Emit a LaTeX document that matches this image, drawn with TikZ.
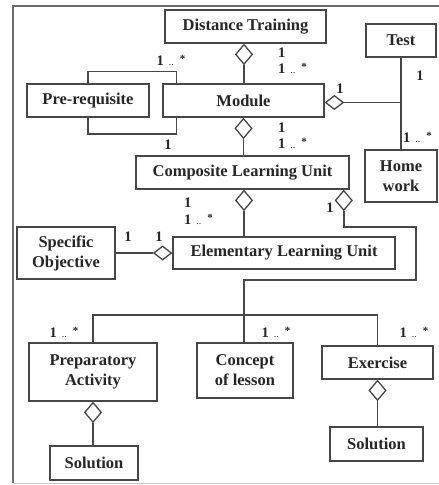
\documentclass[tikz,border=0pt]{standalone}
\usepackage{fontspec}
\setmainfont{Liberation Serif}
\usetikzlibrary{shapes.geometric}
\definecolor{ln}{HTML}{474747}
\definecolor{tx}{HTML}{262626}
\tikzset{
  box/.style={draw=ln, line width=1.5pt, fill=white, inner sep=0pt, align=center,
    text=tx, font=\fontsize{16.5}{20}\selectfont\bfseries},
  agg/.style={diamond, draw=ln, line width=1.3pt, fill=white, inner sep=0pt,
    minimum width=17pt, minimum height=20pt},
  aggh/.style={diamond, draw=ln, line width=1.3pt, fill=white, inner sep=0pt,
    minimum width=18pt, minimum height=14pt},
  conn/.style={draw=ln, line width=1.5pt},
  mult/.style={text=tx, inner sep=0pt, font=\fontsize{14.5}{16}\selectfont\bfseries},
}
\newcommand{\many}{1\hspace{5pt}{\normalfont\fontsize{10}{12}\selectfont..}\hspace{6pt}\raisebox{3pt}{\fontsize{11}{12}\selectfont *}}
\begin{document}
\begin{tikzpicture}[x=1pt,y=-1pt]
\useasboundingbox (0,0) rectangle (439,485);
% frame
\draw[draw=ln!80, line width=1.6pt] (439,6) -- (13,6) -- (13,483);
\draw[draw=ln!30, line width=1pt] (13,483) -- (439,483);

% boxes
\node[box, minimum width=161pt, minimum height=33pt] (dt) at (245.5,26.5) {Distance Training};
\node[box, minimum width=70pt, minimum height=33pt] (test) at (401,40.5) {Test};
\node[box, minimum width=122pt, minimum height=33pt] (pre) at (88,100.5) {Pre-requisite};
\node[box, minimum width=161pt, minimum height=33pt] (mod) at (243.5,100.5) {Module};
\node[box, minimum width=213pt, minimum height=33pt] (clu) at (242.5,172.5) {Composite Learning Unit};
\node[box, minimum width=72pt, minimum height=52pt] (hw) at (401,176) {Home\\work};
\node[box, minimum width=222pt, minimum height=32pt] (elu) at (284,253) {Elementary Learning Unit};
\node[box, minimum width=98pt, minimum height=52pt] (so) at (66,253) {Specific\\Objective};
\node[box, minimum width=128pt, minimum height=58pt] (pa) at (93,372) {Preparatory\\Activity};
\node[box, minimum width=96pt, minimum height=55pt] (col) at (245,370.5) {Concept\\of lesson};
\node[box, minimum width=111pt, minimum height=33pt] (ex) at (377.5,362.5) {Exercise};
\node[box, minimum width=93pt, minimum height=34pt] (sol2) at (376.5,444) {Solution};
\node[box, minimum width=88pt, minimum height=34pt] (sol1) at (94,463) {Solution};

% aggregation diamonds
\node[agg, anchor=north] (d1) at ([xshift=-1.5pt]dt.south) {};
\node[aggh, anchor=west] (d2) at ([yshift=-2pt]mod.east) {};
\node[agg, anchor=north] (d3) at (mod.south) {};
\node[agg, anchor=north] (d4) at ([xshift=1.5pt]clu.south) {};
\node[agg, anchor=north] (d5) at ([xshift=-6pt]clu.south east) {};
\node[aggh, anchor=east] (d6) at (elu.west) {};
\node[agg, anchor=north] (d7) at (pa.south) {};
\node[agg, anchor=north] (d8) at (ex.south) {};
\coordinate (j) at (244,315);

% connectors
\draw[conn] (d1.south) -- (d1.south |- mod.north);
\draw[conn] (pre.north) -- ++(0,-12) -| ([xshift=14pt]mod.north west);
\draw[conn] (pre.south) -- ++(0,16) -| ([xshift=14pt]mod.south west);
\draw[conn] (test.south) -- (hw.north);
\draw[conn] (d2.east) -- (d2.east -| test.south);
\draw[conn] (d3.south) -- (d3.south |- clu.north);
\draw[conn] (d4.south) -- (d4.south |- elu.north);
\draw[conn] (d5.south) -- ++(0,16) -- ++(72,0) -- ++(0,53) -| (j);
\draw[conn] (pa.north) |- (j) -| (ex.north);
\draw[conn] (j) -- (j |- col.north);
\draw[conn] (so.east) -- (d6.west);
\draw[conn] (d7.south) -- (d7.south |- sol1.north);
\draw[conn] (d8.south) -- (d8.south |- sol2.north);

% multiplicities
\node[mult] (m1) at (171,60) {\many};
\node[mult] (m2) at (168,145) {1};
\node[mult, anchor=west] (m3) at (278,53) {1};
\node[mult, anchor=west] (m4) at (278,68) {\many};
\node[mult] (m5) at (340,89) {1};
\node[mult] (m6) at (420,76) {1};
\node[mult, anchor=west] (m7) at (403,137) {\many};
\node[mult, anchor=west] (m8) at (278,128) {1};
\node[mult, anchor=west] (m9) at (278,143) {\many};
\node[mult, anchor=west] (m10) at (184,203) {1};
\node[mult, anchor=west] (m11) at (184,219) {\many};
\node[mult] (m12) at (330,208) {1};
\node[mult] (m13) at (128,237) {1};
\node[mult] (m14) at (159,237) {1};
\node[mult] (m15) at (64,332) {\many};
\node[mult] (m16) at (276,332) {\many};
\node[mult] (m17) at (414,332) {\many};
\end{tikzpicture}
\end{document}
